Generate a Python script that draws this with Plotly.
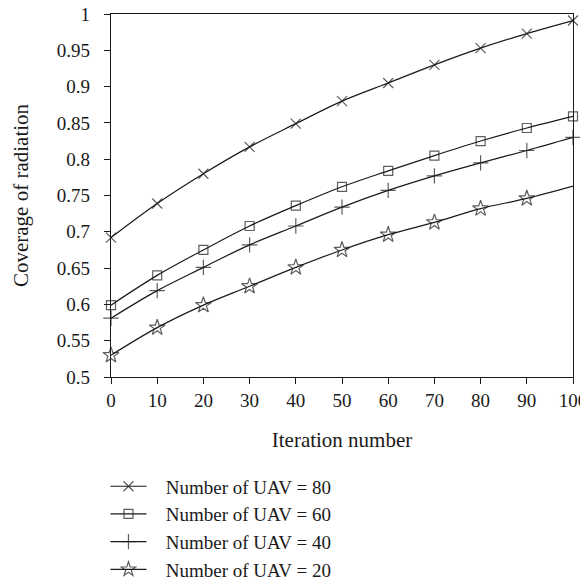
import plotly.graph_objects as go

iterations = [0, 10, 20, 30, 40, 50, 60, 70, 80, 90, 100]
uav80 = [0.692, 0.739, 0.780, 0.817, 0.849, 0.880, 0.905, 0.930, 0.953, 0.973, 0.991]
uav60 = [0.599, 0.640, 0.675, 0.708, 0.736, 0.762, 0.784, 0.805, 0.825, 0.843, 0.859]
uav40 = [0.581, 0.619, 0.651, 0.682, 0.708, 0.734, 0.757, 0.777, 0.795, 0.812, 0.830]
uav20 = [0.530, 0.568, 0.599, 0.625, 0.651, 0.675, 0.696, 0.713, 0.732, 0.746, 0.763]
names = ["Number of UAV = 80", "Number of UAV = 60", "Number of UAV = 40", "Number of UAV = 20"]
yticks = [0.5, 0.55, 0.6, 0.65, 0.7, 0.75, 0.8, 0.85, 0.9, 0.95, 1.0]
ytick_text = ["0.5", "0.55", "0.6", "0.65", "0.7", "0.75", "0.8", "0.85", "0.9", "0.95", "1"]

FONT = "Liberation Serif"
FS = 19
fig = go.Figure()
specs = [
    (uav80, "x-thin-open", [10] * 11),
    (uav60, "square-open", [9] * 11),
    (uav40, "cross-thin-open", [11] * 11),
    (uav20, "star-open", [12] * 10 + [0]),
]
for (vals, sym, sizes), nm in zip(specs, names):
    fig.add_trace(go.Scatter(
        x=iterations, y=vals, name="\u00a0\u00a0\u00a0" + nm, mode="lines+markers",
        line=dict(color="#1a1a1a", width=1.2, shape="spline"),
        marker=dict(symbol=sym, size=sizes, color="#1a1a1a",
                    line=dict(color="#1a1a1a", width=1.2)),
        cliponaxis=False,
    ))

# page body has an 8px default margin, so the figure is sized to 580x576
fig.update_layout(
    width=580, height=576,
    margin=dict(l=103, r=15, t=6, b=207, autoexpand=False),
    paper_bgcolor="white", plot_bgcolor="white",
    font=dict(family=FONT, size=FS, color="#1a1a1a"),
    showlegend=True,
    legend=dict(x=-0.012, xanchor="left", y=-0.249, yanchor="top",
                font=dict(family=FONT, size=FS), bgcolor="rgba(0,0,0,0)",
                itemwidth=36, tracegroupgap=0),
)
fig.update_xaxes(
    range=[0, 100], tickvals=iterations, showline=True, linecolor="#1a1a1a",
    linewidth=1.2, mirror=True, ticks="outside", ticklen=6, tickcolor="#1a1a1a",
    showgrid=False, zeroline=False, automargin=False, ticklabeloverflow="allow",
    title=dict(text="Iteration number", standoff=22, font=dict(family=FONT, size=21)),
    tickfont=dict(family=FONT, size=FS),
)
fig.update_yaxes(
    range=[0.5, 1.0], tickvals=yticks, ticktext=ytick_text, showline=True,
    linecolor="#1a1a1a", linewidth=1.2, mirror=True, ticks="outside", ticklen=6,
    tickcolor="#1a1a1a", showgrid=False, zeroline=False, ticklabelstandoff=10,
    automargin=False, ticklabeloverflow="allow",
    title=dict(text="Coverage of radiation", standoff=22, font=dict(family=FONT, size=21)),
    tickfont=dict(family=FONT, size=FS),
)
fig.write_html("out.html")
